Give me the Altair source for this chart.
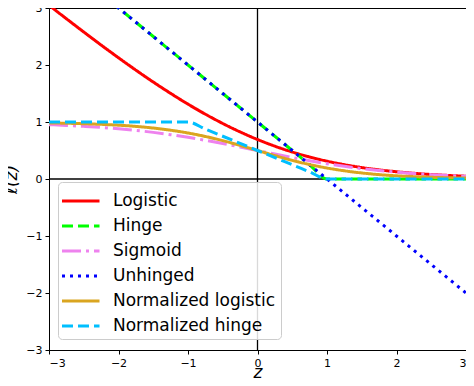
import altair as alt
import pandas as pd

z = [-3, -2.75, -2.5, -2.25, -2, -1.75, -1.5, -1.25, -1, -0.75, -0.5, -0.25, 0,
     0.25, 0.5, 0.75, 1, 1.25, 1.5, 1.75, 2, 2.25, 2.5, 2.75, 3]

logistic = [3.049, 2.812, 2.579, 2.350, 2.127, 1.910, 1.701, 1.502, 1.313, 1.137, 0.974, 0.826, 0.693,
            0.576, 0.474, 0.387, 0.313, 0.252, 0.201, 0.160, 0.127, 0.100, 0.079, 0.062, 0.049]
hinge = [4, 3.75, 3.5, 3.25, 3, 2.75, 2.5, 2.25, 2, 1.75, 1.5, 1.25, 1,
         0.75, 0.5, 0.25, 0, 0, 0, 0, 0, 0, 0, 0, 0]
sigmoid = [0.953, 0.940, 0.924, 0.905, 0.881, 0.852, 0.818, 0.777, 0.731, 0.679, 0.623, 0.562, 0.5,
           0.438, 0.378, 0.321, 0.269, 0.223, 0.182, 0.148, 0.119, 0.095, 0.076, 0.060, 0.047]
unhinged = [4, 3.75, 3.5, 3.25, 3, 2.75, 2.5, 2.25, 2, 1.75, 1.5, 1.25, 1,
            0.75, 0.5, 0.25, 0, -0.25, -0.5, -0.75, -1, -1.25, -1.5, -1.75, -2]
norm_logistic = [0.984, 0.978, 0.970, 0.959, 0.944, 0.923, 0.894, 0.856, 0.807, 0.746, 0.673, 0.589, 0.5,
                 0.411, 0.327, 0.254, 0.193, 0.144, 0.106, 0.077, 0.056, 0.041, 0.030, 0.022, 0.016]
norm_hinge = [1, 1, 1, 1, 1, 1, 1, 1, 1, 0.875, 0.75, 0.625, 0.5,
              0.375, 0.25, 0.125, 0, 0, 0, 0, 0, 0, 0, 0, 0]

names = ["Logistic", "Hinge", "Sigmoid", "Unhinged", "Normalized logistic", "Normalized hinge"]
colors = ["#ff0000", "#00ff00", "#ee82ee", "#0000ff", "#daa520", "#00bfff"]
dashes = [[1, 0], [11, 5], [19, 5, 3, 5], [3, 5], [1, 0], [11, 5]]
series = [logistic, hinge, sigmoid, unhinged, norm_logistic, norm_hinge]
ticks = [-3, -2, -1, 0, 1, 2, 3]

rows = []
for i, (n, vals) in enumerate(zip(names, series)):
    for zz, v in zip(z, vals):
        rows.append({"series": n, "z": zz, "loss": v, "k": i})
df = pd.DataFrame(rows)

xs = alt.Scale(domain=[-3, 3], nice=False, zero=False)
ys = alt.Scale(domain=[-3, 3], nice=False, zero=False)

zero_v = alt.Chart(pd.DataFrame({"z": [0]})).mark_rule(color="black", strokeWidth=1.3).encode(
    x=alt.X("z:Q", scale=xs))
zero_h = alt.Chart(pd.DataFrame({"loss": [0]})).mark_rule(color="black", strokeWidth=1.3).encode(
    y=alt.Y("loss:Q", scale=ys))

lines = alt.Chart(df).mark_line(clip=True, strokeWidth=3, interpolate="monotone").encode(
    x=alt.X("z:Q", scale=xs, title="z",
            axis=alt.Axis(values=ticks, format="d", titleFontStyle="italic", titlePadding=-4)),
    y=alt.Y("loss:Q", scale=ys, title="ℓ(z)",
            axis=alt.Axis(values=ticks, format="d", titleFontStyle="italic", titlePadding=5)),
    color=alt.Color("series:N", scale=alt.Scale(domain=names, range=colors), title=None),
    strokeDash=alt.StrokeDash("series:N", scale=alt.Scale(domain=names, range=dashes), title=None),
    order=alt.Order("k:Q"),
    detail="series:N",
)

chart = alt.layer(zero_v, zero_h, lines).properties(
    width=417, height=342,
    autosize=alt.AutoSizeParams(type="none"),
    padding={"left": 41, "top": 0, "right": 0, "bottom": 28},
).configure_view(stroke="black", strokeWidth=1).configure_axis(
    grid=False, domainColor="black", domainWidth=1, tickColor="black", tickSize=4, tickWidth=1,
    labelFont="DejaVu Sans", labelFontSize=11, labelColor="black", labelPadding=3,
    titleFont="DejaVu Sans", titleFontSize=17, titleFontWeight="normal", titleColor="black",
).configure_legend(
    orient="none", legendX=9, legendY=174,
    fillColor="rgba(255,255,255,0.85)", strokeColor="#cccccc", cornerRadius=4, padding=5,
    labelFont="DejaVu Sans", labelFontSize=17, labelColor="black", labelOffset=22, labelLimit=300,
    symbolType="M-1.2,0L1.8,0", symbolSize=625, symbolStrokeWidth=3, rowPadding=3,
)

chart.save("out.html", embed_options={"renderer": "svg", "actions": False})
